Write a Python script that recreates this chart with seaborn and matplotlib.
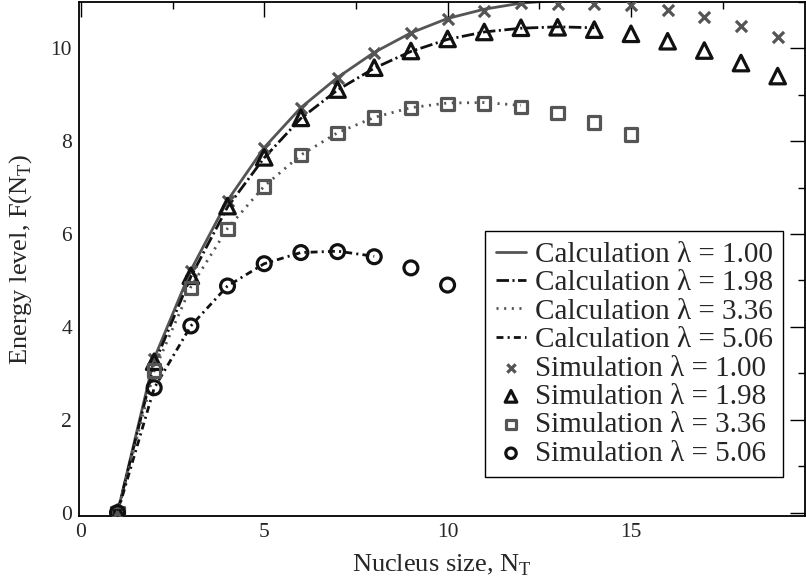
import matplotlib
matplotlib.use("Agg")
import matplotlib.pyplot as plt
from matplotlib.ticker import MultipleLocator
import seaborn as sns

# ── Data ──────────────────────────────────────────────────────────────────────
n_sim = list(range(1, 20))
sim_100 = [0.0, 3.30, 5.20, 6.70, 7.86, 8.72, 9.36, 9.90, 10.33, 10.62, 10.80,
           10.97, 10.96, 10.96, 10.92, 10.83, 10.68, 10.47, 10.24]
sim_198 = [0.0, 3.25, 5.10, 6.60, 7.65, 8.50, 9.11, 9.58, 9.94, 10.20, 10.35,
           10.44, 10.45, 10.40, 10.31, 10.15, 9.95, 9.68, 9.40]

n_sim_336 = list(range(1, 16))
sim_336 = [0.0, 3.06, 4.84, 6.11, 7.02, 7.70, 8.18, 8.51, 8.72, 8.80, 8.81,
           8.74, 8.61, 8.40, 8.14]

n_sim_506 = list(range(1, 11))
sim_506 = [0.0, 2.69, 4.02, 4.88, 5.36, 5.60, 5.62, 5.51, 5.27, 4.90]

n_calc_100 = list(range(1, 15))
calc_100 = [0.0, 3.32, 5.22, 6.72, 7.86, 8.72, 9.37, 9.91, 10.33, 10.64, 10.84,
            10.97, 11.03, 11.05]
n_calc_198 = list(range(1, 15))
calc_198 = [0.0, 3.20, 5.08, 6.58, 7.64, 8.49, 9.10, 9.57, 9.93, 10.19, 10.35,
            10.43, 10.46, 10.44]
n_calc_336 = list(range(1, 13))
calc_336 = [0.0, 3.05, 4.86, 6.12, 7.03, 7.70, 8.18, 8.51, 8.72, 8.82, 8.83, 8.77]
n_calc_506 = list(range(1, 9))
calc_506 = [0.0, 2.68, 4.02, 4.88, 5.36, 5.60, 5.63, 5.52]

LAMBDAS = ["1.00", "1.98", "3.36", "5.06"]

GREY = "#555555"
BLACK = "#111111"

# ── Style ─────────────────────────────────────────────────────────────────────
sns.set_style("white")
plt.rcParams["font.family"] = ["Liberation Serif", "DejaVu Serif"]
plt.rcParams["mathtext.fontset"] = "custom"
plt.rcParams["mathtext.rm"] = "Liberation Serif"
plt.rcParams["lines.scale_dashes"] = False

fig = plt.figure(figsize=(8.06, 5.84), dpi=100)
ax = fig.add_axes([0.098, 0.117, 0.901, 0.880])

# ── Calculated curves ─────────────────────────────────────────────────────────
calc = [
    (n_calc_100, calc_100, GREY, "-"),
    (n_calc_198, calc_198, BLACK, (0, (9, 2.5, 1.5, 2.5))),
    (n_calc_336, calc_336, GREY, (0, (1.5, 4.0))),
    (n_calc_506, calc_506, BLACK, (0, (5, 3, 1.5, 3))),
]
for (xs, ys, col, ls), lam in zip(calc, LAMBDAS):
    sns.lineplot(x=xs, y=ys, ax=ax, color=col, linestyle=ls, linewidth=2.0,
                 label=f"Calculation λ = {lam}", zorder=2)

# ── Simulated points ──────────────────────────────────────────────────────────
sns.scatterplot(x=n_sim, y=sim_100, ax=ax, marker="x", color=GREY, s=64,
                linewidth=2.3, label="Simulation λ = 1.00", zorder=3)
sns.scatterplot(x=n_sim, y=sim_198, ax=ax, marker="^", facecolor="none",
                edgecolor=BLACK, s=125, linewidth=2.3,
                label="Simulation λ = 1.98", zorder=3)
sns.scatterplot(x=n_sim_336, y=sim_336, ax=ax, marker="s", facecolor="none",
                edgecolor=GREY, s=78, linewidth=2.3,
                label="Simulation λ = 3.36", zorder=3)
sns.scatterplot(x=n_sim_506, y=sim_506, ax=ax, marker="o", facecolor="none",
                edgecolor=BLACK, s=100, linewidth=2.3,
                label="Simulation λ = 5.06", zorder=3)

# ── Axes ──────────────────────────────────────────────────────────────────────
ax.set_xlim(-0.05, 19.75)
ax.set_ylim(-0.065, 11.0)
ax.xaxis.set_major_locator(MultipleLocator(5))
ax.xaxis.set_minor_locator(MultipleLocator(2.5))
ax.yaxis.set_major_locator(MultipleLocator(2))
ax.yaxis.set_minor_locator(MultipleLocator(1))
ax.tick_params(which="both", direction="in", top=True, right=True,
               color="black", width=1.0)
ax.tick_params(which="major", length=11, labelsize=15.5, pad=5)
ax.tick_params(which="minor", length=5)
for sp in ax.spines.values():
    sp.set_visible(True)
    sp.set_color("black")
    sp.set_linewidth(1.3)

ax.set_xlabel("Nucleus size, N$_\\mathregular{T}$", fontsize=19, labelpad=8)
ax.set_ylabel("Energy level, F(N$_\\mathregular{T}$)", fontsize=19, labelpad=12)

leg = ax.legend(loc="lower right", bbox_to_anchor=(0.970, 0.075),
                borderaxespad=0, fontsize=21, frameon=True, fancybox=False,
                edgecolor="black", framealpha=1, handlelength=1.05,
                handletextpad=0.3, labelspacing=0.07, borderpad=0.35,
                markerscale=0.75)
leg.get_frame().set_linewidth(1.0)

fig.savefig("out.png", dpi=100)
